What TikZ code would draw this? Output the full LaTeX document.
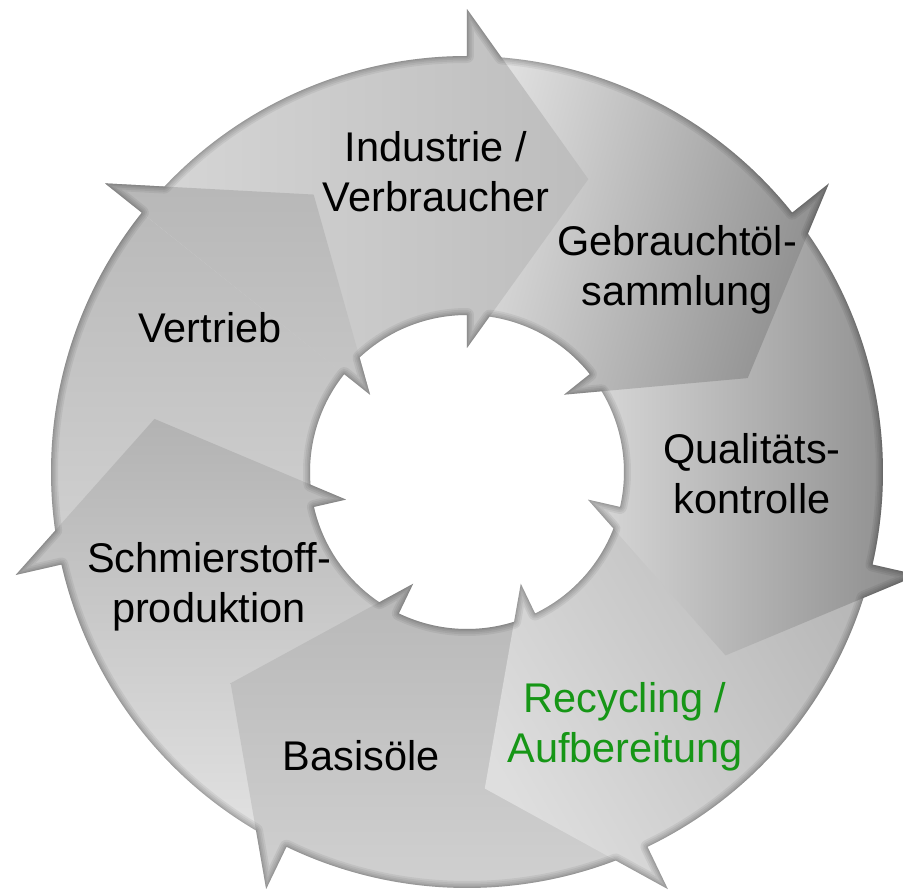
\documentclass[tikz,border=0pt]{standalone}
\usepackage{fontspec}
\setmainfont{Liberation Sans}
\definecolor{labelgreen}{RGB}{22,150,22}
% outline of the whole ring: outer edge with its barbs, inner edge with its barbs
\newcommand{\ringoutline}{
  (136.67:416) arc[start angle=136.67, end angle=90, radius=416] -- (90:463)
  -- (85.24:416) arc[start angle=85.24, end angle=38.571, radius=416] -- (38.571:463)
  -- (34.95:416) arc[start angle=34.95, end angle=-12.857, radius=416] -- (-12.857:463)
  -- (-17.62:416) arc[start angle=-17.62, end angle=-64.286, radius=416] -- (-64.286:463)
  -- (-69.05:416) arc[start angle=-69.05, end angle=-115.714, radius=416] -- (-115.714:463)
  -- (-120.48:416) arc[start angle=-120.48, end angle=-167.143, radius=416] -- (-167.143:463)
  -- (-171.90:416) arc[start angle=-171.90, end angle=-218.571, radius=416] -- (-218.571:463) -- cycle
  (133.18:157) arc[start angle=133.18, end angle=90, radius=157] -- (90:124)
  -- (81.75:157) arc[start angle=81.75, end angle=38.571, radius=157] -- (38.571:124)
  -- (30.93:157) arc[start angle=30.93, end angle=-12.857, radius=157] -- (-12.857:124)
  -- (-21.11:157) arc[start angle=-21.11, end angle=-64.286, radius=157] -- (-64.286:124)
  -- (-72.54:157) arc[start angle=-72.54, end angle=-115.714, radius=157] -- (-115.714:124)
  -- (-123.96:157) arc[start angle=-123.96, end angle=-167.143, radius=157] -- (-167.143:124)
  -- (-175.39:157) arc[start angle=-175.39, end angle=-218.571, radius=157] -- (-218.571:124) -- cycle
}
\tikzset{
  cycletext/.style = {align=center, inner sep=0pt, text=black, font=\fontsize{41.5}{50}\selectfont},
  industrieshade/.style = {top color=black!16, bottom color=black!26, shading angle=90},
  sammlungshade/.style = {top color=black!12, bottom color=black!45, shading angle=75},
  kontrolleshade/.style = {top color=black!15, bottom color=black!46, shading angle=90},
  recyclingshade/.style = {top color=black!13, bottom color=black!28, shading angle=120},
  basisshade/.style = {top color=black!18, bottom color=black!28, shading angle=180},
  produktionshade/.style = {top color=black!11, bottom color=black!30, shading angle=180},
  vertriebshade/.style = {top color=black!18, bottom color=black!28, shading angle=180},
  rim/.style = {draw=black, opacity=0.06, line join=round}
}

\begin{document}
\begin{tikzpicture}[x=1pt, y=1pt]
\useasboundingbox (-467,-420) rectangle (436,472);

% Arrows, each drawn over the tail of the one before
\path[vertriebshade] (192.857:416) arc[start angle=192.857, end angle=141.429, radius=416]
  -- (141.429:157) arc[start angle=141.429, end angle=192.857, radius=157] -- cycle
  (141.429:463) -- (118.929:317) -- (141.429:124) -- cycle;

\path[produktionshade] (-115.714:416) arc[start angle=-115.714, end angle=-167.143, radius=416]
  -- (-167.143:157) arc[start angle=-167.143, end angle=-115.714, radius=157] -- cycle
  (-167.143:463) -- (-189.643:317) -- (-167.143:124) -- cycle;

\path[basisshade] (-64.286:416) arc[start angle=-64.286, end angle=-115.714, radius=416]
  -- (-115.714:157) arc[start angle=-115.714, end angle=-64.286, radius=157] -- cycle
  (-115.714:463) -- (-138.214:317) -- (-115.714:124) -- cycle;

\path[recyclingshade] (-12.857:416) arc[start angle=-12.857, end angle=-64.286, radius=416]
  -- (-64.286:157) arc[start angle=-64.286, end angle=-12.857, radius=157] -- cycle
  (-64.286:463) -- (-86.786:317) -- (-64.286:124) -- cycle;

\path[kontrolleshade] (38.571:416) arc[start angle=38.571, end angle=-12.857, radius=416]
  -- (-12.857:157) arc[start angle=-12.857, end angle=38.571, radius=157] -- cycle
  (-12.857:463) -- (-35.357:317) -- (-12.857:124) -- cycle;

\path[sammlungshade] (90:416) arc[start angle=90, end angle=38.571, radius=416]
  -- (38.571:157) arc[start angle=38.571, end angle=90, radius=157] -- cycle
  (38.571:463) -- (18.5:296) -- (38.571:124) -- cycle;

\path[industrieshade] (141.429:416) arc[start angle=141.429, end angle=90, radius=416]
  -- (90:157) arc[start angle=90, end angle=141.429, radius=157] -- cycle
  (90:463) -- (67.5:317) -- (90:124) -- cycle;

% head of Vertrieb again, on top of the Industrie tail
\begin{scope}
  \clip (141.429:463) -- (118.929:317) -- (141.429:124) -- cycle;
  \path[vertriebshade] (192.857:416) arc[start angle=192.857, end angle=141.429, radius=416]
    -- (141.429:157) arc[start angle=141.429, end angle=192.857, radius=157] -- cycle
    (141.429:463) -- (118.929:317) -- (141.429:124) -- cycle;
\end{scope}

% soft dark bevel inside the ring edges
\begin{scope}[even odd rule]
  \clip \ringoutline;
  \draw[rim, line width=14] \ringoutline;
  \draw[rim, line width=10.5] \ringoutline;
  \draw[rim, line width=7] \ringoutline;
  \draw[rim, line width=4] \ringoutline;
  \draw[rim, line width=1.8] \ringoutline;
\end{scope}

% Labels
\node[cycletext] (industrie) at (-31,300) {Industrie /\\Verbraucher};
\node[cycletext] (sammlung) at (210,202) {Gebrauchtöl-\\sammlung};
\node[cycletext] (kontrolle) at (285,-2) {Qualitäts-\\kontrolle};
\node[cycletext, text=labelgreen] (recycling) at (158,-255) {Recycling /\\Aufbereitung};
\node[cycletext] (basisoele) at (-106,-284) {Basisöle};
\node[cycletext] (produktion) at (-258,-115) {Schmierstoff-\\produktion};
\node[cycletext] (vertrieb) at (-257,144) {Vertrieb};

\end{tikzpicture}
\end{document}
